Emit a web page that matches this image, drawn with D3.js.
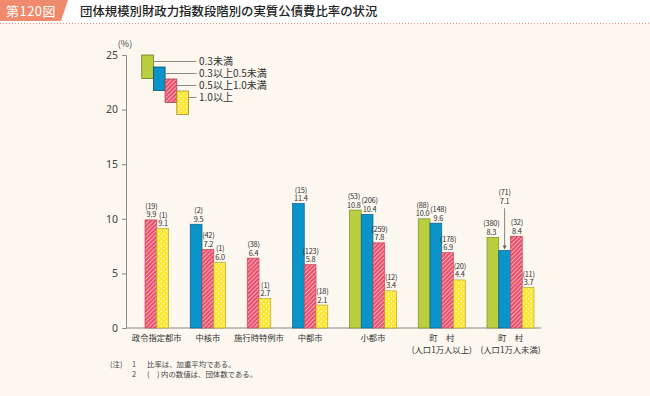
<!DOCTYPE html>
<html>
<head>
<meta charset="utf-8">
<script src="https://cdn.jsdelivr.net/npm/d3@7"></script>
<style>
  body { margin: 0; background: #fcf7ef; }
  svg text { font-family: "Noto Sans CJK JP", "Noto Sans", sans-serif; }
</style>
</head>
<body>
<div id="chart"></div>
<script>
var W = 650, H = 396;

// categories and series
var categories = ["政令指定都市", "中核市", "施行時特例市", "中都市", "小都市", "町　村", "町　村"];
var subLabels = ["", "", "", "", "", "(人口1万人以上)", "(人口1万人未満)"];
var seriesNames = ["0.3未満", "0.3以上0.5未満", "0.5以上1.0未満", "1.0以上"];

// ratio values (%), null = no bar
var vLt03 = [null, null, null, null, 10.8, 10.0, 8.3];
var v03to05 = [null, 9.5, null, 11.4, 10.4, 9.6, 7.1];
var v05to10 = [9.9, 7.2, 6.4, 5.8, 7.8, 6.9, 8.4];
var vGe10 = [9.1, 6.0, 2.7, 2.1, 3.4, 4.4, 3.7];

// number of bodies (shown in parentheses)
var nLt03 = [null, null, null, null, 53, 88, 380];
var n03to05 = [null, 2, null, 15, 206, 148, 71];
var n05to10 = [19, 42, 38, 123, 259, 178, 32];
var nGe10 = [1, 1, 1, 18, 12, 20, 11];

var yTicks = [0, 5, 10, 15, 20, 25];

var values = [vLt03, v03to05, v05to10, vGe10];
var counts = [nLt03, n03to05, n05to10, nGe10];

var fills = ["#b9cf3f", "#0a94c9", "url(#hatch)", "url(#dots)"];
var strokes = ["#7d8d2c", "#0b5f86", "#c4475d", "#b9a32b"];
var labelShift = [-1.5, 2.5, 0.5, 0.5];

var svg = d3.select("#chart").append("svg")
    .attr("width", W)
    .attr("height", H);

// patterns
var defs = svg.append("defs");
var hatch = defs.append("pattern")
    .attr("id", "hatch")
    .attr("patternUnits", "userSpaceOnUse")
    .attr("width", 3).attr("height", 3)
    .attr("patternTransform", "rotate(45)");
hatch.append("rect").attr("width", 3).attr("height", 3).attr("fill", "#e9506b");
hatch.append("line").attr("x1", 0).attr("y1", 0).attr("x2", 0).attr("y2", 3)
    .attr("stroke", "#fff").attr("stroke-width", 1);

var dots = defs.append("pattern")
    .attr("id", "dots")
    .attr("patternUnits", "userSpaceOnUse")
    .attr("width", 5).attr("height", 5);
dots.append("rect").attr("width", 5).attr("height", 5).attr("fill", "#ffe630");
dots.append("circle").attr("cx", 1.25).attr("cy", 1.25).attr("r", 0.75).attr("fill", "#fff");
dots.append("circle").attr("cx", 3.75).attr("cy", 3.75).attr("r", 0.75).attr("fill", "#fff");

// title band
svg.append("rect").attr("x", 0).attr("y", 0).attr("width", W).attr("height", 24).attr("fill", "#fff");
svg.append("path")
    .attr("d", "M0,0 L68,0 L61,21 L0,21 Z")
    .attr("fill", "#f08a6c");
svg.append("text")
    .attr("x", 31).attr("y", 15.5)
    .attr("text-anchor", "middle")
    .attr("fill", "#fff")
    .style("font-size", "13px")
    .style("letter-spacing", "0.5px")
    .text("第120図");
svg.append("text")
    .attr("x", 80).attr("y", 16)
    .attr("fill", "#222")
    .style("font-size", "12.4px")
    .style("font-weight", "500")
    .text("団体規模別財政力指数段階別の実質公債費比率の状況");
svg.append("line")
    .attr("x1", 0).attr("x2", W).attr("y1", 23.5).attr("y2", 23.5)
    .attr("stroke", "#f08a6c").attr("stroke-width", 1)
    .attr("stroke-dasharray", "1,2");

// layout of bars: existing bars packed in each group, fixed gap between groups
var BAR = 1, GAP = 1.85;
var layout = [];
var pos = 0;
categories.forEach(function(c, gi) {
    if (gi > 0) pos += GAP;
    var start = pos;
    values.forEach(function(arr, si) {
        if (arr[gi] != null) {
            layout.push({ g: gi, s: si, u: pos, v: arr[gi], n: counts[si][gi] });
            pos += BAR;
        }
    });
    layout.push({ g: gi, label: true, u: (start + pos) / 2 });
});
var totalUnits = pos;

var x = d3.scaleLinear().domain([0, totalUnits]).range([145, 534]);
var bw = x(1) - x(0);
var y = d3.scaleLinear().domain([0, 25]).range([328, 55]);

var bars = layout.filter(function(d) { return !d.label; });
var groupCenters = layout.filter(function(d) { return d.label; });

// axes
var yAxis = svg.append("g")
    .attr("transform", "translate(126,0)")
    .call(d3.axisLeft(y).tickValues(yTicks).tickSize(4).tickPadding(4));
yAxis.select(".domain").attr("stroke", "#8a8a8a");
yAxis.selectAll(".tick line").attr("stroke", "#8a8a8a");
yAxis.selectAll(".tick text")
    .attr("fill", "#444")
    .style("font-family", "'Noto Sans', sans-serif")
    .style("font-size", "10.5px");

svg.append("text")
    .attr("x", 125).attr("y", 47)
    .attr("text-anchor", "middle")
    .attr("fill", "#444")
    .style("font-size", "9px")
    .text("(%)");

svg.append("line")
    .attr("x1", 126).attr("x2", 541)
    .attr("y1", y(0)).attr("y2", y(0))
    .attr("stroke", "#8a8a8a");

// bars
svg.append("g").selectAll("rect")
    .data(bars)
    .enter().append("rect")
    .attr("x", function(d) { return x(d.u); })
    .attr("y", function(d) { return y(d.v); })
    .attr("width", bw)
    .attr("height", function(d) { return y(0) - y(d.v); })
    .attr("fill", function(d) { return fills[d.s]; })
    .attr("stroke", function(d) { return strokes[d.s]; })
    .attr("stroke-width", 0.7);

// value labels; a bar lower than both neighbours gets a raised label with a leader
function neighbours(d) {
    var same = bars.filter(function(b) { return b.g === d.g; });
    var i = same.indexOf(d);
    return [same[i - 1], same[i + 1]];
}

var lab = svg.append("g")
    .style("font-family", "'Noto Sans', sans-serif")
    .style("font-size", "7.4px")
    .style("letter-spacing", "-0.2px")
    .attr("fill", "#333")
    .attr("text-anchor", "middle");

bars.forEach(function(d) {
    var nb = neighbours(d);
    var cx = x(d.u) + bw / 2 + labelShift[d.s];
    var top = y(d.v);
    var raised = nb[0] && nb[1] && nb[0].v > d.v + 0.5 && nb[1].v > d.v + 0.5;
    var base = top;
    if (raised) {
        base = y(Math.max(nb[0].v, nb[1].v)) - 30;
        cx = x(d.u) + bw / 2;
        svg.append("line")
            .attr("x1", cx).attr("x2", cx)
            .attr("y1", base + 2).attr("y2", top - 4)
            .attr("stroke", "#666").attr("stroke-width", 0.8);
        svg.append("path")
            .attr("d", "M" + (cx - 2) + "," + (top - 5) + " L" + (cx + 2) + "," + (top - 5) + " L" + cx + "," + (top - 1) + " Z")
            .attr("fill", "#666");
    }
    lab.append("text").attr("x", cx).attr("y", base - 2.5).text(d.v.toFixed(1));
    lab.append("text").attr("x", cx).attr("y", base - 11).text("(" + d.n + ")");
});

// category labels
var cat = svg.append("g")
    .attr("fill", "#333")
    .attr("text-anchor", "middle")
    .style("font-size", "8.3px");
groupCenters.forEach(function(d) {
    var cx = x(d.u);
    cat.append("text").attr("x", cx).attr("y", 341).text(categories[d.g]);
    if (subLabels[d.g]) {
        cat.append("text").attr("x", cx).attr("y", 353).text(subLabels[d.g]);
    }
});

// legend
var leg = svg.append("g");
seriesNames.forEach(function(name, i) {
    var bx = 141.7 + i * 11.7, by = 55 + i * 12;
    var ly = by + 6.5;
    leg.append("rect")
        .attr("x", bx).attr("y", by)
        .attr("width", 11.7).attr("height", 23.5)
        .attr("fill", fills[i])
        .attr("stroke", d3.color(strokes[i]).darker(0.4))
        .attr("stroke-width", 0.8);
    leg.append("line")
        .attr("x1", bx + 11.7).attr("x2", 196.5)
        .attr("y1", ly).attr("y2", ly)
        .attr("stroke", "#8a8a8a").attr("stroke-width", 1);
    leg.append("text")
        .attr("x", 199).attr("y", ly + 3.6)
        .attr("fill", "#333")
        .style("font-size", "10px")
        .text(name);
});

// notes
var note = svg.append("g").attr("fill", "#444").style("font-size", "7.4px");
note.append("text").attr("x", 110).attr("y", 367).text("(注)");
note.append("text").attr("x", 132).attr("y", 367).text("1");
note.append("text").attr("x", 147).attr("y", 367).text("比率は、加重平均である。");
note.append("text").attr("x", 132).attr("y", 377).text("2");
note.append("text").attr("x", 147).attr("y", 377).text("(　) 内の数値は、団体数である。");
</script>
</body>
</html>
